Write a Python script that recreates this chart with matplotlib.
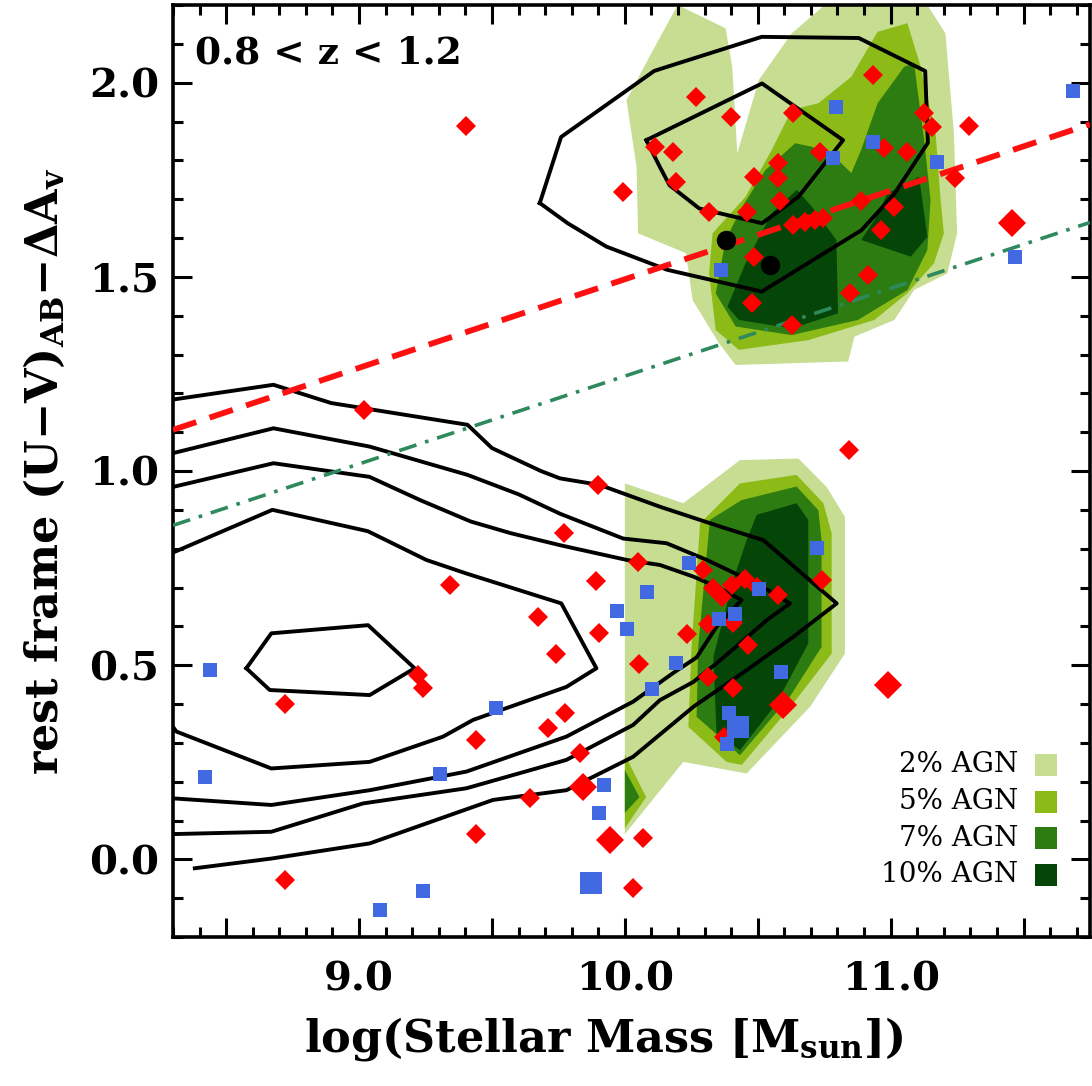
import matplotlib
matplotlib.use('Agg')
import matplotlib.pyplot as plt
from matplotlib.ticker import MultipleLocator, FuncFormatter

plt.rcParams['font.family'] = ['DejaVu Serif']
plt.rcParams['mathtext.fontset'] = 'dejavuserif'

# ---------------- data ----------------
# AGN-fraction filled regions (2%, 5%, 7%, 10%), upper (red sequence) blob
up2_x = [10.05, 10.044, 10.006, 10.106, 10.199, 10.379, 10.404, 10.423, 10.504, 10.628, 10.752, 11.138, 11.206, 11.238, 11.25, 11.213, 11.088, 11.014, 10.864, 10.84, 10.417, 10.354, 10.255, 10.23]
up2_y = [1.612, 1.784, 1.955, 2.084, 2.2, 2.14, 2.041, 1.818, 2.007, 2.127, 2.2, 2.2, 2.127, 1.87, 1.612, 1.509, 1.466, 1.389, 1.346, 1.282, 1.273, 1.329, 1.44, 1.561]
up5_x = [10.33, 10.454, 10.553, 10.628, 10.728, 10.852, 10.951, 11.063, 11.113, 11.169, 11.188, 11.2, 11.163, 11.063, 10.939, 10.69, 10.429, 10.342, 10.317]
up5_y = [1.612, 1.706, 1.827, 1.93, 1.947, 2.015, 2.131, 2.153, 2.041, 1.87, 1.698, 1.612, 1.535, 1.458, 1.389, 1.337, 1.312, 1.363, 1.509]
up7_x = [10.641, 10.529, 10.442, 10.379, 10.342, 10.417, 10.628, 10.877, 11.063, 11.138, 11.15, 11.126, 11.088, 11.051, 10.951, 10.889, 10.852, 10.79, 10.703]
up7_y = [1.844, 1.775, 1.681, 1.595, 1.457, 1.372, 1.35, 1.389, 1.466, 1.569, 1.698, 1.852, 2.05, 2.041, 1.947, 1.827, 1.767, 1.809, 1.835]
up10a_x = [10.647, 10.703, 10.796, 10.802, 10.628, 10.429, 10.386, 10.454, 10.553]
up10a_y = [1.724, 1.681, 1.595, 1.406, 1.367, 1.389, 1.423, 1.535, 1.664]
up10b_x = [10.989, 11.107, 11.138, 11.076, 10.889, 10.939]
up10b_y = [1.715, 1.758, 1.603, 1.552, 1.595, 1.646]

# lower (blue cloud) blob
lo2_x = [10.0, 10.22, 10.433, 10.653, 10.759, 10.828, 10.828, 10.697, 10.458, 10.22, 10.0]
lo2_y = [0.968, 0.917, 1.028, 1.032, 0.959, 0.882, 0.53, 0.393, 0.221, 0.251, 0.065]
lo5_x = [10.283, 10.433, 10.646, 10.747, 10.778, 10.778, 10.634, 10.44, 10.383, 10.239, 10.251]
lo5_y = [0.865, 0.968, 0.99, 0.917, 0.839, 0.53, 0.402, 0.243, 0.251, 0.341, 0.547]
lo7_x = [10.32, 10.439, 10.646, 10.728, 10.74, 10.74, 10.621, 10.433, 10.327, 10.27, 10.276]
lo7_y = [0.874, 0.925, 0.96, 0.899, 0.822, 0.547, 0.419, 0.268, 0.333, 0.367, 0.547]
lo10_x = [10.496, 10.646, 10.69, 10.69, 10.571, 10.433, 10.345, 10.333, 10.408, 10.458]
lo10_y = [0.887, 0.917, 0.874, 0.556, 0.402, 0.281, 0.324, 0.522, 0.719, 0.822]
sl5_x = [10.0, 10.08, 10.0]
sl5_y = [0.27, 0.16, 0.08]
sl7_x = [10.0, 10.055, 10.0]
sl7_y = [0.23, 0.16, 0.12]

# black number-density contours
cu1_x = [9.68, 9.76, 10.11, 10.155, 10.515, 10.88, 11.13, 11.14, 11.01, 10.89, 10.515, 10.16, 9.93, 9.785, 9.68]
cu1_y = [1.69, 1.86, 2.03, 2.04, 2.118, 2.115, 2.03, 1.845, 1.71, 1.62, 1.462, 1.518, 1.578, 1.638, 1.69]
cu2_x = [10.081, 10.516, 10.821, 10.653, 10.516, 10.28, 10.168, 10.131, 10.081]
cu2_y = [1.852, 1.998, 1.852, 1.706, 1.638, 1.676, 1.736, 1.784, 1.852]
cl1_x = [8.3, 8.678, 8.895, 9.408, 9.5, 9.684, 9.756, 9.906, 10.132, 10.358, 10.521, 10.797,
         10.634, 10.458, 10.258, 10.031, 9.78, 9.504, 9.04, 8.67, 8.382]
cl1_y = [1.184, 1.222, 1.175, 1.119, 1.059, 1.0, 0.981, 0.964, 0.908, 0.857, 0.822, 0.659,
         0.573, 0.487, 0.393, 0.264, 0.178, 0.153, 0.041, 0.002, -0.023]
cl2_x = [8.3, 8.678, 9.039, 9.408, 9.6, 9.756, 9.994, 10.157, 10.308, 10.508, 10.621,
         10.534, 10.433, 10.345, 10.258, 10.132, 10.031, 9.78, 9.404, 9.015, 8.67, 8.3]
cl2_y = [1.046, 1.11, 1.063, 0.99, 0.94, 0.89, 0.826, 0.814, 0.771, 0.706, 0.659,
         0.616, 0.556, 0.505, 0.457, 0.41, 0.346, 0.256, 0.183, 0.144, 0.071, 0.065]
cl3_x = [8.3, 8.678, 9.039, 9.23, 9.42, 9.57, 9.756, 10.007, 10.132, 10.258, 10.345, 10.439,
         10.345, 10.27, 10.18, 10.031, 9.78, 9.404, 9.04, 8.67, 8.3]
cl3_y = [0.959, 1.02, 0.985, 0.925, 0.87, 0.84, 0.809, 0.771, 0.758, 0.728, 0.702, 0.668,
         0.599, 0.52, 0.479, 0.406, 0.316, 0.226, 0.178, 0.14, 0.157]
cl4_x = [8.3, 8.674, 9.033, 9.253, 9.404, 9.761, 9.893, 9.78, 9.429, 9.316, 9.04, 8.67, 8.313, 8.3]
cl4_y = [0.79, 0.9, 0.845, 0.771, 0.736, 0.659, 0.492, 0.444, 0.359, 0.316, 0.251, 0.234, 0.329, 0.341]
cl5_x = [8.576, 8.67, 9.034, 9.209, 9.04, 8.664, 8.576]
cl5_y = [0.492, 0.582, 0.603, 0.492, 0.423, 0.436, 0.492]

# relations
red_line_x = [8.3, 11.75]
red_line_y = [1.106, 1.893]
green_line_x = [8.3, 11.75]
green_line_y = [0.86, 1.64]

# red diamonds (small)
red_x = [10.267, 10.398, 10.634, 10.933, 10.112, 10.18, 9.994, 10.193, 10.317, 10.46, 10.485, 10.578,
         10.578, 10.585, 10.734, 10.976, 11.063, 11.126, 11.157, 11.295, 11.242, 10.889, 11.014, 10.964,
         10.634, 10.678, 10.715, 10.746, 10.485, 10.914, 10.846, 10.479, 10.628,
         9.402, 9.02, 10.843,
         9.341, 9.89, 9.673, 9.903, 9.742, 9.222, 9.241, 8.72, 9.774, 9.711, 9.441, 9.83, 9.642,
         9.441, 8.72, 10.03, 10.07, 9.77, 10.051, 10.054, 9.90,
         10.233, 10.295, 10.333, 10.364, 10.402, 10.452, 10.496, 10.577, 10.74, 10.314, 10.406,
         10.465, 10.314, 10.406, 10.373]
red_y = [1.964, 1.912, 1.921, 2.02, 1.835, 1.822, 1.719, 1.745, 1.668, 1.668, 1.758, 1.792,
         1.754, 1.694, 1.822, 1.831, 1.822, 1.921, 1.887, 1.888, 1.754, 1.694, 1.681, 1.621,
         1.633, 1.642, 1.646, 1.651, 1.552, 1.505, 1.458, 1.432, 1.376,
         1.888, 1.158, 1.054,
         0.706, 0.717, 0.625, 0.582, 0.53, 0.475, 0.44, 0.4, 0.378, 0.337, 0.307, 0.273, 0.157,
         0.065, -0.053, -0.075, 0.055, 0.84, 0.766, 0.503, 0.964,
         0.58, 0.745, 0.698, 0.676, 0.706, 0.723, 0.702, 0.681, 0.719, 0.606, 0.609,
         0.552, 0.47, 0.44, 0.314]
# red diamonds (large)
red_big_x = [11.455, 10.991, 10.594, 9.843, 9.943]
red_big_y = [1.639, 0.449, 0.397, 0.187, 0.05]

# blue squares (small)
blue_x = [10.796, 10.933, 10.784, 11.173, 10.361, 11.686, 11.468,
          8.44, 8.419, 9.514, 9.303, 9.97, 10.008, 9.92, 9.901, 9.241, 9.08,
          10.243, 10.085, 10.192, 10.103, 10.355, 10.414, 10.505, 10.724, 10.586, 10.393, 10.383]
blue_y = [1.938, 1.848, 1.805, 1.796, 1.518, 1.979, 1.551,
          0.487, 0.213, 0.389, 0.22, 0.64, 0.592, 0.191, 0.12, -0.082, -0.131,
          0.762, 0.689, 0.505, 0.438, 0.62, 0.633, 0.695, 0.803, 0.483, 0.376, 0.296]
# blue squares (large)
blue_big_x = [9.874, 10.425]
blue_big_y = [-0.06, 0.34]

# black circles
black_x = [10.379, 10.547]
black_y = [1.595, 1.53]

# legend
legend_labels = ['2% AGN', '5% AGN', '7% AGN', '10% AGN']
legend_colors = ['#c6dd92', '#8cba16', '#2c7c12', '#064508']

# ---------------- plot ----------------
fig = plt.figure(figsize=(10.92, 10.86), dpi=100)
ax = fig.add_axes([173 / 1092, 149 / 1086, 917 / 1092, 932 / 1086])

c2, c5, c7, c10 = legend_colors
for xs, ys, c in [(up2_x, up2_y, c2), (up5_x, up5_y, c5), (up7_x, up7_y, c7),
                  (up10a_x, up10a_y, c10), (up10b_x, up10b_y, c10),
                  (lo2_x, lo2_y, c2), (lo5_x, lo5_y, c5), (lo7_x, lo7_y, c7), (lo10_x, lo10_y, c10),
                  (sl5_x, sl5_y, c5), (sl7_x, sl7_y, c7)]:
    ax.fill(xs, ys, color=c, lw=0, zorder=1)

for xs, ys in [(cu1_x, cu1_y), (cu2_x, cu2_y), (cl1_x, cl1_y), (cl2_x, cl2_y),
               (cl3_x, cl3_y), (cl4_x, cl4_y), (cl5_x, cl5_y)]:
    ax.plot(xs, ys, color='black', lw=2.8, zorder=2)

ax.plot(red_line_x, red_line_y, color='#ff1010', lw=4.2, dashes=(4.2, 2.4), zorder=3)
ax.plot(green_line_x, green_line_y, color='#2e8a5c', lw=2.6, dashes=(5, 2.5, 1, 2.5), zorder=3)

ax.plot(red_x, red_y, 'D', color='#ff0000', ms=10.5, mew=0, zorder=4)
ax.plot(red_big_x, red_big_y, 'D', color='#ff0000', ms=14.5, mew=0, zorder=4)
ax.plot(blue_x, blue_y, 's', color='#4169e1', ms=9.8, mew=0, zorder=4)
ax.plot(blue_big_x, blue_big_y, 's', color='#4169e1', ms=16.5, mew=0, zorder=4)
ax.plot(black_x, black_y, 'o', color='black', ms=14, mew=0, zorder=5)

# legend (manual)
for i, (lab, col) in enumerate(zip(legend_labels, legend_colors)):
    yy = 0.243 - i * 0.0943
    ax.text(11.48, yy, lab, ha='right', va='center', fontsize=20, zorder=6)
    ax.plot([11.585], [yy], 's', color=col, ms=15.5, mew=0, zorder=6)

ax.text(0.024, 0.948, '0.8 < z < 1.2', transform=ax.transAxes, fontsize=27,
        fontweight='bold', ha='left', va='center')

ax.set_xlim(8.3, 11.75)
ax.set_ylim(-0.2, 2.2)
ax.xaxis.set_major_locator(MultipleLocator(0.5))
ax.xaxis.set_minor_locator(MultipleLocator(0.1))
ax.yaxis.set_major_locator(MultipleLocator(0.5))
ax.yaxis.set_minor_locator(MultipleLocator(0.1))
ax.xaxis.set_major_formatter(FuncFormatter(lambda v, p: f'{v:.1f}' if abs(v - round(v)) < 1e-6 else ''))
ax.yaxis.set_major_formatter(FuncFormatter(lambda v, p: f'{v:.1f}'))
ax.tick_params(which='both', direction='in', top=True, right=True, width=2.2)
ax.tick_params(which='major', length=14)
ax.tick_params(which='minor', length=7)
ax.tick_params(axis='x', which='major', pad=17, labelsize=29)
ax.tick_params(axis='y', which='major', pad=10, labelsize=29)
for lab in ax.get_xticklabels() + ax.get_yticklabels():
    lab.set_fontweight('bold')
for s in ax.spines.values():
    s.set_linewidth(2.6)

ax.set_xlabel(r'log(Stellar Mass [M$_{\bf sun}$])', fontsize=32, fontweight='bold', labelpad=12)
ax.xaxis.label.set_x(0.47)
ax.set_ylabel(r'rest frame (U−V)$_{\bf AB}$−ΔA$_{\bf v}$', fontsize=32, fontweight='bold', labelpad=16)

fig.savefig('out.png', dpi=100)
